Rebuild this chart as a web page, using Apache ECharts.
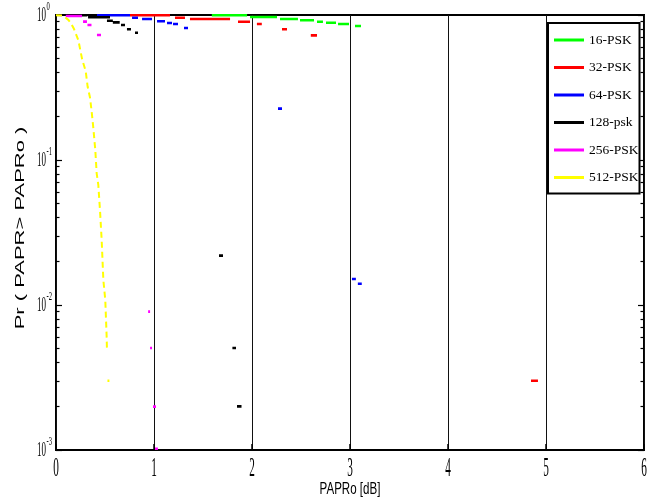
<!DOCTYPE html>
<html>
<head>
<meta charset="utf-8">
<title>PAPR CCDF</title>
<script src="https://cdn.jsdelivr.net/npm/echarts@6/dist/echarts.min.js"></script>
<style>
  html, body { margin: 0; padding: 0; background: #fff; }
  #main { width: 662px; height: 504px; }
</style>
</head>
<body>
<div id="main"></div>
<script>
// visible pieces of each curve: [PAPRo from, PAPRo to, Pr]
var psk16 = [
  [1.59, 1.95, 0.995], [1.98, 2.255, 0.969], [2.286, 2.469, 0.938], [2.49, 2.633, 0.919],
  [2.663, 2.724, 0.899], [2.755, 2.857, 0.885], [2.878, 2.99, 0.867], [3.051, 3.112, 0.84]
];
var psk32 = [
  [0.755, 1.163, 0.995], [1.214, 1.316, 0.958], [1.367, 1.776, 0.938], [1.857, 1.98, 0.899],
  [2.05, 2.10, 0.867], [2.306, 2.357, 0.797], [2.60, 2.663, 0.724], [4.847, 4.918, 0.0030]
];
var psk64 = [
  [0.418, 0.755, 0.995], [0.776, 0.837, 0.958], [0.878, 0.98, 0.938], [1.031, 1.112, 0.905],
  [1.133, 1.184, 0.881], [1.194, 1.245, 0.867], [1.306, 1.347, 0.813], [2.265, 2.306, 0.226],
  [3.02, 3.06, 0.0151], [3.08, 3.12, 0.0140]
];
var psk128 = [
  [0.21, 0.32, 0.995], [0.327, 0.551, 0.964], [0.52, 0.58, 0.913], [0.58, 0.65, 0.89],
  [0.663, 0.704, 0.853], [0.724, 0.765, 0.797], [0.806, 0.837, 0.755], [1.663, 1.704, 0.0219],
  [1.80, 1.837, 0.00505], [1.847, 1.893, 0.0020]
];
var psk256 = [
  [0.10, 0.265, 0.985], [0.276, 0.316, 0.90], [0.321, 0.362, 0.853], [0.418, 0.459, 0.728],
  [0.94, 0.96, 0.0090], [0.96, 0.98, 0.00505], [0.99, 1.02, 0.00199], [1.01, 1.04, 0.00102]
];
// 512-PSK drawn as a dashed curve [PAPRo, Pr]
var psk512 = [
  [0, 0.995], [0.07, 0.99], [0.126, 0.925], [0.15, 0.885], [0.184, 0.80], [0.228, 0.67],
  [0.268, 0.49], [0.303, 0.41], [0.323, 0.32], [0.347, 0.27], [0.364, 0.215], [0.381, 0.166],
  [0.401, 0.117], [0.415, 0.081], [0.432, 0.067], [0.449, 0.045], [0.466, 0.028], [0.483, 0.0149],
  [0.503, 0.0108], [0.517, 0.006], [0.52, 0.0049]
];
var psk512Tail = [[0.525, 0.545, 0.0030]];

var names = ['16-PSK', '32-PSK', '64-PSK', '128-psk', '256-PSK', '512-PSK'];
var colors = ['#00ff00', '#ff0000', '#0000ff', '#000000', '#ff00ff', '#ffff00'];
var xTicks = [0, 1, 2, 3, 4, 5, 6];
var yDecades = [0.001, 0.01, 0.1, 1];
var yMinor = [];
yDecades.slice(0, 3).forEach(function (d) {
  for (var k = 2; k <= 9; k++) yMinor.push(+(d * k).toPrecision(3));
});

function toLine(segs) {
  var out = [];
  segs.forEach(function (s) {
    out.push([s[0], s[2]], [s[1], s[2]], [s[1], null]);
  });
  return out;
}

function segSeries(name, color, data, dashed) {
  return {
    name: name, type: 'line', data: data, showSymbol: false, connectNulls: false,
    color: color, silent: true,
    lineStyle: { color: color, width: dashed ? 2 : 2.6, type: dashed ? [6, 4] : 'solid', cap: 'butt' }
  };
}

function logAxis(pos, ticks, len) {
  return {
    type: 'log', logBase: 10, min: 0.001, max: 1, position: pos,
    axisLine: { show: false }, axisLabel: { show: false }, splitLine: { show: false },
    axisTick: { inside: true, length: len, customValues: ticks, lineStyle: { color: '#000', width: 1.2 } }
  };
}

var chart = echarts.init(document.getElementById('main'));
var option = {
  animation: false,
  backgroundColor: '#fff',
  grid: { left: 56, top: 15, right: 18, bottom: 54, show: true, borderColor: '#000', borderWidth: 2, backgroundColor: 'transparent' },
  legend: {
    data: names, orient: 'vertical', left: 548, top: 23, icon: 'rect',
    itemWidth: 30, itemHeight: 3, itemGap: 11.5,
    padding: [9, 1, 8, 6], borderColor: '#000', borderWidth: 2, backgroundColor: '#fff',
    textStyle: { fontFamily: 'Liberation Serif', fontSize: 13.5, lineHeight: 16, color: '#000' }
  },
  xAxis: {
    type: 'value', min: 0, max: 6, interval: 1,
    axisLine: { show: false }, axisLabel: { show: false },
    axisTick: { inside: true, length: 6, lineStyle: { color: '#000', width: 1.5 } },
    splitLine: { show: true, lineStyle: { color: '#111', width: 1 } }
  },
  yAxis: [
    logAxis('left', yDecades, 6), logAxis('left', yMinor, 3.5),
    logAxis('right', yDecades, 6), logAxis('right', yMinor, 3.5)
  ],
  series: [
    segSeries(names[0], colors[0], toLine(psk16)),
    segSeries(names[1], colors[1], toLine(psk32)),
    segSeries(names[2], colors[2], toLine(psk64)),
    segSeries(names[3], colors[3], toLine(psk128)),
    segSeries(names[4], colors[4], toLine(psk256)),
    segSeries(names[5], colors[5], psk512, true),
    segSeries(names[5], colors[5], toLine(psk512Tail))
  ]
};
chart.setOption(option);

// tick labels and axis names, narrow like the original figure
var g = [];
xTicks.forEach(function (v) {
  var px = chart.convertToPixel({ xAxisIndex: 0 }, v);
  g.push({ type: 'text', x: px, y: 469, scaleX: 0.4, silent: true,
    style: { text: String(v), fontFamily: 'Liberation Serif', fontSize: 28, fill: '#000', align: 'center', verticalAlign: 'middle' } });
});
yDecades.forEach(function (v) {
  var py = chart.convertToPixel({ yAxisIndex: 0 }, v);
  var e = Math.round(Math.log10(v));
  g.push({ type: 'text', x: 46, y: py + 1, scaleX: 0.45, silent: true,
    style: { text: '10', fontFamily: 'Liberation Serif', fontSize: 20, fill: '#000', align: 'right', verticalAlign: 'middle' } });
  g.push({ type: 'text', x: 46.5, y: py - 8, scaleX: 0.55, silent: true,
    style: { text: String(e), fontFamily: 'Liberation Serif', fontSize: 12, fill: '#000', align: 'left', verticalAlign: 'middle' } });
});
g.push({ type: 'text', x: 20, y: 228, rotation: Math.PI / 2, scaleY: 0.6, silent: true,
  style: { text: 'Pr ( PAPR> PAPRo )', fontFamily: 'Liberation Sans', fontSize: 22, fill: '#000', align: 'center', verticalAlign: 'middle' } });
g.push({ type: 'text', x: 350, y: 489, scaleX: 0.68, silent: true,
  style: { text: 'PAPRo [dB]', fontFamily: 'Liberation Sans', fontSize: 17, fill: '#000', align: 'center', verticalAlign: 'middle' } });
chart.setOption({ graphic: g });
</script>
</body>
</html>
